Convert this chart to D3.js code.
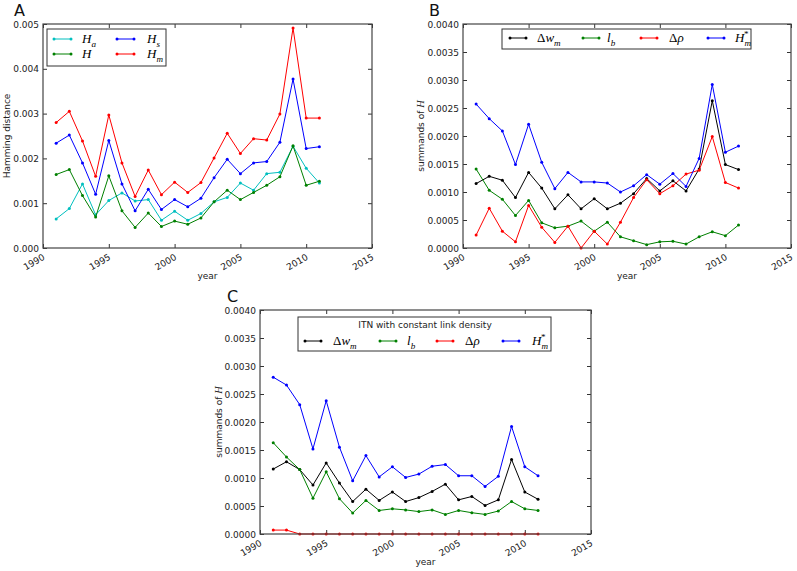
<!DOCTYPE html>
<html><head><meta charset="utf-8">
<script src="https://cdn.jsdelivr.net/npm/d3@7"></script>
<style>body{margin:0;background:#fff} svg text{font-family:"DejaVu Sans",sans-serif}</style>
</head><body><svg id="c" width="797" height="571"></svg>
<script>
const years=[1991,1992,1993,1994,1995,1996,1997,1998,1999,2000,2001,2002,2003,2004,2005,2006,2007,2008,2009,2010,2011];
const xTicks=[1990,1995,2000,2005,2010,2015];
const yTicksA=[0,0.001,0.002,0.003,0.004,0.005];
const yTicksBC=[0,0.0005,0.001,0.0015,0.002,0.0025,0.003,0.0035,0.004];

// Panel A
const A_Ha=[0.00065,0.00088,0.00143,0.00074,0.00106,0.00123,0.00105,0.00108,0.00062,0.00082,0.00062,0.00077,0.00103,0.00113,0.00145,0.00129,0.00166,0.00169,0.00227,0.00178,0.00145];
const A_H=[0.00164,0.00175,0.00117,0.00069,0.00161,0.00083,0.00046,0.00078,0.00048,0.0006,0.00053,0.00067,0.00103,0.00129,0.00108,0.00124,0.0014,0.00159,0.00228,0.0014,0.00149];
const A_Hs=[0.00234,0.00252,0.0019,0.0012,0.0024,0.00143,0.00083,0.00131,0.00086,0.00108,0.00092,0.00111,0.00157,0.00198,0.00166,0.0019,0.00193,0.00236,0.00377,0.00222,0.00226];
const A_Hm=[0.0028,0.00305,0.00239,0.0016,0.00297,0.0019,0.00115,0.00174,0.00119,0.00147,0.00124,0.00146,0.00201,0.00256,0.00211,0.00244,0.00241,0.00299,0.00491,0.0029,0.0029];

// Panel B
const B_dw=[0.00115,0.00128,0.00121,0.0009,0.00135,0.00107,0.0007,0.00095,0.0007,0.00088,0.0007,0.0008,0.00097,0.00124,0.00102,0.0012,0.00102,0.00141,0.00263,0.00149,0.0014];
const B_lb=[0.00141,0.00103,0.00087,0.00058,0.00085,0.00045,0.00036,0.00039,0.00048,0.0003,0.00046,0.0002,0.00013,0.00006,0.00011,0.00012,0.00007,0.0002,0.00029,0.00022,0.00041];
const B_drho=[0.00023,0.00071,0.0003,0.00011,0.00076,0.00037,0.0001,0.00039,0.0,0.0003,0.00007,0.00046,0.0009,0.00122,0.00097,0.00111,0.00132,0.00139,0.00199,0.00117,0.00107];
const B_Hm=[0.00257,0.00231,0.00209,0.00149,0.00221,0.00153,0.00106,0.00135,0.00118,0.00118,0.00116,0.001,0.00111,0.00131,0.00114,0.00133,0.0011,0.0016,0.00292,0.00171,0.00182];

// Panel C
const C_dw=[0.00116,0.00129,0.00115,0.000875,0.00127,0.00091,0.00058,0.0008,0.0006,0.00075,0.00058,0.00065,0.00076,0.00089,0.00061,0.00067,0.00051,0.00061,0.00133,0.00075,0.00062];
const C_lb=[0.00163,0.001375,0.00115,0.00064,0.00111,0.00063,0.000375,0.0006,0.00042,0.00045,0.00043,0.0004,0.00043,0.00035,0.00042,0.00038,0.00035,0.00041,0.00058,0.00045,0.00042];
const C_drho=[0.00007,0.00007,0,0,0,0,0,0,0,0,0,0,0,0,0,0,0,0,0,0,0];
const C_Hm=[0.0028,0.00266,0.00231,0.00152,0.00238,0.00155,0.00095,0.0014,0.00102,0.0012,0.00101,0.00107,0.00121,0.00124,0.00104,0.00104,0.00085,0.00103,0.00192,0.0012,0.00104];

const COL={c:"#00bfbf",g:"#008000",b:"#0000ff",r:"#ff0000",k:"#000000"};
const MATHF='"Liberation Serif","DejaVu Serif",serif';
const FS="9px";
const svg=d3.select("#c");

function mathText(g,x,y,parts,size){
  const t=g.append("text").attr("x",x).attr("y",y).style("font-family",MATHF).style("font-size",size+"px");
  parts.forEach(p=>{
    const s=t.append("tspan").text(p.t);
    if(p.i) s.style("font-style","italic");
    if(p.sub){s.attr("dy",size*0.3).style("font-size",(size*0.7)+"px");}
    if(p.sup){s.attr("dy",p.dy!=null?p.dy:-size*0.45).style("font-size",(size*0.7)+"px");}
    if(p.dx!=null) s.attr("dx",p.dx);
  });
  return t;
}

function panel(cfg){
  const g=svg.append("g");
  const x=d3.scaleLinear().domain([1990,2015]).range([cfg.l,cfg.r]);
  const y=d3.scaleLinear().domain([0,cfg.ymax]).range([cfg.b,cfg.t]);
  const fmt=d3.format(cfg.fmt);
  const ax=[
    [d3.axisBottom(x).tickValues(xTicks).tickSize(-4).tickFormat(d3.format("d")),`translate(0,${cfg.b})`],
    [d3.axisTop(x).tickValues(xTicks).tickSize(-4).tickFormat(""),`translate(0,${cfg.t})`],
    [d3.axisLeft(y).tickValues(cfg.yt).tickSize(-4).tickFormat(fmt).tickPadding(4),`translate(${cfg.l},0)`],
    [d3.axisRight(y).tickValues(cfg.yt).tickSize(-4).tickFormat(""),`translate(${cfg.r},0)`]
  ];
  const axG=ax.map(a=>{
    const s=g.append("g").attr("transform",a[1]).call(a[0]);
    s.select(".domain").remove();
    s.selectAll(".tick line").attr("stroke","#333");
    s.selectAll("text").style("font-family",'"DejaVu Sans",sans-serif').style("font-size",FS).attr("fill","#222");
    return s;
  });
  axG[0].selectAll("text").attr("y",0).attr("dy",0).attr("text-anchor","end")
    .attr("transform","translate(2,11) rotate(-30)");
  axG[2].selectAll("text").attr("dy","0.35em");
  cfg.series.forEach(s=>{
    const line=d3.line().x((d,i)=>x(years[i])).y(d=>y(d));
    g.append("path").datum(s.v).attr("d",line).attr("fill","none").attr("stroke",s.c).attr("stroke-width",1);
    g.selectAll(null).data(s.v).enter().append("circle").attr("cx",(d,i)=>x(years[i])).attr("cy",d=>y(d)).attr("r",1.5).attr("fill",s.c);
  });
  g.append("rect").attr("x",cfg.l).attr("y",cfg.t).attr("width",cfg.r-cfg.l).attr("height",cfg.b-cfg.t)
    .attr("fill","none").attr("stroke","#444").attr("stroke-width",1.2);
  g.append("text").attr("x",(cfg.l+cfg.r)/2).attr("y",cfg.b+31).attr("text-anchor","middle")
    .style("font-size",FS).attr("fill","#222").text("year");
  const yl=g.append("text").attr("transform",`translate(${cfg.yl},${(cfg.t+cfg.b)/2}) rotate(-90)`)
    .attr("text-anchor","middle").style("font-size",FS).attr("fill","#222");
  yl.append("tspan").text(cfg.ylabel);
  if(cfg.ylabelH) yl.append("tspan").text("H").style("font-family",MATHF).style("font-style","italic").style("font-size","10.5px");
  g.append("text").attr("x",cfg.lx).attr("y",cfg.ly).style("font-size","16px").attr("fill","#111").text(cfg.letter);
  return {g,x,y};
}

function legendSample(g,x1,x2,yy,c){
  g.append("line").attr("x1",x1).attr("x2",x2).attr("y1",yy).attr("y2",yy).attr("stroke",c).attr("stroke-width",1);
  g.append("circle").attr("cx",x1).attr("cy",yy).attr("r",1.5).attr("fill",c);
  g.append("circle").attr("cx",x2).attr("cy",yy).attr("r",1.5).attr("fill",c);
}

// ---- Panel A
const pA=panel({l:43,r:372,t:24,b:248,ymax:0.005,yt:yTicksA,fmt:".3f",yl:10,ylabel:"Hamming distance",lx:14,ly:16,letter:"A",
  series:[{v:A_Ha,c:COL.c},{v:A_H,c:COL.g},{v:A_Hs,c:COL.b},{v:A_Hm,c:COL.r}]});
{
  const g=pA.g;
  g.append("rect").attr("x",47).attr("y",29).attr("width",119).attr("height",37).attr("fill","#fff").attr("stroke","#333").attr("stroke-width",1);
  legendSample(g,54,71,39,COL.c); mathText(g,82,43,[{t:"H",i:true},{t:"a",i:true,sub:true}],13);
  legendSample(g,54,71,54,COL.g); mathText(g,82,58,[{t:"H",i:true}],13);
  legendSample(g,117,134,39,COL.b); mathText(g,147,43,[{t:"H",i:true},{t:"s",i:true,sub:true}],13);
  legendSample(g,117,134,54,COL.r); mathText(g,147,58,[{t:"H",i:true},{t:"m",i:true,sub:true}],13);
}

// ---- Panel B
const pB=panel({l:463,r:791,t:24,b:248,ymax:0.004,yt:yTicksBC,fmt:".4f",yl:424,ylabel:"summands of ",ylabelH:true,lx:429,ly:16,letter:"B",
  series:[{v:B_dw,c:COL.k},{v:B_lb,c:COL.g},{v:B_drho,c:COL.r},{v:B_Hm,c:COL.b}]});
function fourLegend(g,yy,xs){
  legendSample(g,xs[0],xs[0]+16,yy,COL.k);
  mathText(g,xs[1],yy+4,[{t:"Δ"},{t:"w",i:true},{t:"m",i:true,sub:true}],13);
  legendSample(g,xs[2],xs[2]+16,yy,COL.g);
  mathText(g,xs[3],yy+4,[{t:"l",i:true},{t:"b",i:true,sub:true}],13);
  legendSample(g,xs[4],xs[4]+16,yy,COL.r);
  mathText(g,xs[5],yy+4,[{t:"Δ"},{t:"ρ",i:true}],13);
  legendSample(g,xs[6],xs[6]+16,yy,COL.b);
  mathText(g,xs[7],yy+4,[{t:"H",i:true},{t:"m",i:true,sub:true},{t:"*",sup:true,dx:-7,dy:-9}],13);
}
{
  const g=pB.g;
  g.append("rect").attr("x",502).attr("y",29).attr("width",249).attr("height",20).attr("fill","#fff").attr("stroke","#333").attr("stroke-width",1);
  fourLegend(g,38,[510,537,583,607,641,669,708,735]);
}

// ---- Panel C
const pC=panel({l:260,r:591,t:310,b:534,ymax:0.004,yt:yTicksBC,fmt:".4f",yl:222,ylabel:"summands of ",ylabelH:true,lx:227,ly:302,letter:"C",
  series:[{v:C_dw,c:COL.k},{v:C_lb,c:COL.g},{v:C_drho,c:COL.r},{v:C_Hm,c:COL.b}]});
{
  const g=pC.g;
  g.append("rect").attr("x",298).attr("y",317).attr("width",253).attr("height",34).attr("fill","#fff").attr("stroke","#333").attr("stroke-width",1);
  g.append("text").attr("x",425).attr("y",328).attr("text-anchor","middle").style("font-size",FS).attr("fill","#222").text("ITN with constant link density");
  fourLegend(g,341,[305,333,380,407,437,465,503,532]);
}
</script></body></html>
